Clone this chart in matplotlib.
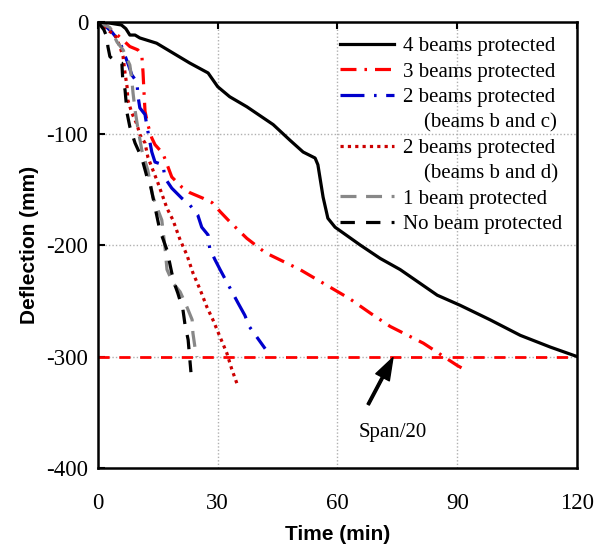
import matplotlib
matplotlib.use("Agg")
import matplotlib.pyplot as plt
from matplotlib.lines import Line2D

# ---- data (time in min, deflection in mm) ----
t_4beams = [0, 3, 5.9, 7, 8, 9.3, 10.5, 14.7, 18.8, 23, 27.6, 30, 33, 37.3, 43.9, 48.1,
            51.4, 54.4, 55.1, 56.4, 57.6, 59.4, 65.7, 70.7, 75.7, 85, 90.7, 98.2, 105.8,
            113.3, 120]
d_4beams = [0, -1, -2.7, -6, -11.7, -11.7, -14.3, -19, -27.8, -36.8, -45.7, -58, -67, -76,
            -92, -106, -116.6, -122, -128, -157, -176, -184, -200, -212, -222, -245, -254,
            -267, -281, -291.5, -300]

t_3beams = [0, 2.3, 5, 8, 10, 11, 11.3, 11.5, 11.8, 12.5, 13.5, 14.3, 16.3, 18.5, 21, 23,
            26.3, 28.6, 30.6, 33, 37.3, 42, 50.6, 63, 68.2, 73.2, 81.5, 84.5, 87, 90, 92.5]
d_3beams = [0, -4, -12, -22, -25, -30, -45, -60, -80, -92, -104, -110, -118, -139, -148,
            -153, -158, -162, -170, -179, -194, -207, -222, -248, -261, -273, -288, -295,
            -301, -308, -313]

t_2bc = [0, 2, 3.5, 5.5, 7.5, 8.5, 9.8, 10, 10.5, 11.8, 12.3, 13.5, 14.3, 16.3, 16.8, 18.5,
         21, 23, 25, 26, 27.6, 28, 29.3, 30.6, 33.6, 35.1, 36.8, 38, 39.8, 41.9]
d_2bc = [0, -4, -9, -18, -37, -47.5, -54, -65.5, -77, -83, -94, -116.6, -125.6, -128, -140,
         -149, -158, -164, -173, -184, -191, -203, -213, -222, -242, -252, -263, -273.5,
         -282.5, -293]

t_2bd = [0, 0.5, 4.3, 5.5, 6.3, 6.8, 7.3, 7.5, 8.5, 9.8, 10.5, 11.8, 12.5, 13.8, 15, 16.3,
         17.3, 18.8, 20.6, 22.3, 23.8, 25.6, 27.3, 28.8, 30.6, 32.3, 33.5, 34.8]
d_2bd = [0, -2.7, -11.7, -22, -31, -46, -58, -70, -81.6, -92, -101, -108.5, -121, -133, -144,
         -157, -167, -177.6, -195.5, -209, -225, -240, -255.6, -267, -282.5, -297, -311, -324]

t_1beam = [0, 3, 4.8, 6.3, 8, 8.5, 8.8, 9.3, 10, 11, 12.5, 13.8, 16, 16.8, 17.3, 18.8, 20.6,
           22.3, 23.6, 23.8, 24.3, 24.8]
d_1beam = [0, -5, -18, -25, -38.6, -52, -63.7, -79, -95, -115, -133, -157, -177.6, -202,
           -222, -234, -242, -255.6, -267, -279, -291.5, -300.4]

t_nobeam = [0, 1.5, 2.3, 2.5, 3, 4.3, 6, 6.2, 6.8, 7.3, 8, 9.3, 11, 12.3, 13, 14.3, 15.5,
            17.3, 18.5, 19.3, 20, 21.3, 21.8, 22.6, 23.3]
d_nobeam = [0, -7, -14, -22, -31, -35, -37, -50, -61, -81.6, -94, -108.5, -122, -139, -144,
            -166, -186.5, -204.5, -225, -236, -243, -258, -271, -285, -314]

span_limit = -300
xticks = [0, 30, 60, 90, 120]
yticks = [0, -100, -200, -300, -400]

labels = ["4 beams protected", "3 beams protected", "2 beams protected",
          "    (beams b and c)", "2 beams protected", "    (beams b and d)",
          "1 beam protected", "No beam protected"]

# ---- figure ----
serif = "Liberation Serif"
sans = "Liberation Sans"

fig = plt.figure(figsize=(5.97, 5.5), dpi=100)
ax = fig.add_axes([0.164, 0.149, 0.8025, 0.811])

lw = 2.3
l4, = ax.plot(t_4beams, d_4beams, color="black", lw=lw, zorder=5)
l3, = ax.plot(t_3beams, d_3beams, color="#ff0000", lw=lw, linestyle=(0, (5, 2.5, 0.8, 2.5)))
l2bc, = ax.plot(t_2bc, d_2bc, color="#0000cc", lw=lw, linestyle=(0, (7.5, 3, 0.8, 3)))
l2bd, = ax.plot(t_2bd, d_2bd, color="#cc0000", lw=lw, linestyle=(0, (1, 1.3)))
l1, = ax.plot(t_1beam, d_1beam, color="#888888", lw=lw, linestyle=(0, (5, 3)))
l0, = ax.plot(t_nobeam, d_nobeam, color="black", lw=lw, linestyle=(0, (4.5, 3.5)))

ax.axhline(span_limit, color="#ff0000", lw=2, linestyle=(0, (4, 3.5)))

ax.annotate("", xy=(73.9, -301), xytext=(67.7, -343),
            arrowprops=dict(facecolor="black", edgecolor="black", width=1.8,
                            headwidth=11, headlength=16, shrink=0))
ax.text(73.9, -368, "Span/20", fontsize=15, family=serif, ha="center", va="center")

ax.set_xlim(0, 120)
ax.set_ylim(-400, 0)
ax.set_xticks(xticks)
ax.set_yticks(yticks)
ax.set_xticklabels([str(v) for v in xticks], family=serif, fontsize=16.5)
ax.set_yticklabels([str(v) for v in yticks], family=serif, fontsize=16.5)

# inner grid (dotted) only
for v in [30, 60, 90]:
    ax.axvline(v, color="#b0b0b0", lw=1, linestyle=(0, (1, 1.5)), zorder=0)
for v in [-100, -200, -300]:
    ax.axhline(v, color="#b0b0b0", lw=1, linestyle=(0, (1, 1.5)), zorder=0)

ax.tick_params(axis="x", direction="in", length=5, width=1.5, pad=18,
               bottom=False, top=True)
ax.tick_params(axis="y", direction="in", length=5, width=1.5, pad=7)
for s in ax.spines.values():
    s.set_linewidth(1.8)

ax.set_xlabel("Time (min)", family=sans, fontweight="bold", fontsize=15, labelpad=8)
ax.set_ylabel("Deflection (mm)", family=sans, fontweight="bold", fontsize=15, labelpad=5)

blank = Line2D([], [], linestyle="none")
handles = [l4, l3, l2bc, blank, l2bd, blank, l1, l0]
ax.legend(handles, labels, loc="upper right", frameon=False,
          prop={"family": serif, "size": 15}, handlelength=2.6, handletextpad=0.45,
          labelspacing=0.28, borderaxespad=0.3, bbox_to_anchor=(1.0, 1.0))

fig.savefig("out.png", dpi=100)
